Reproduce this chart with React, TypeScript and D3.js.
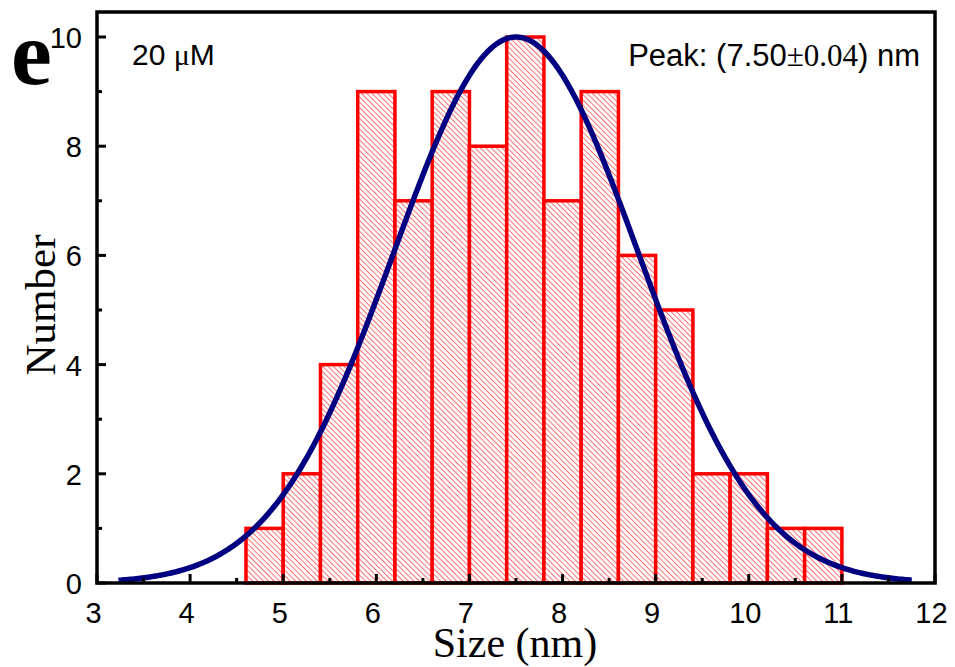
import React, { useEffect, useRef } from "react";
import * as d3 from "d3";

const binStarts = [4.6, 5.0, 5.4, 5.8, 6.2, 6.6, 7.0, 7.4, 7.8, 8.2, 8.6, 9.0, 9.4, 9.8, 10.2, 10.6];
const counts = [1, 2, 4, 9, 7, 9, 8, 10, 7, 9, 6, 5, 2, 2, 1, 1];
const binWidth = 0.4;
// Gaussian fit parameters: [center, sigma, amplitude], range of fit curve
const fitParams = [7.5, 1.31, 10];
const fitRange = [3.23, 11.75];
const xTicks = [3, 4, 5, 6, 7, 8, 9, 10, 11, 12];
const yTicks = [0, 2, 4, 6, 8, 10];

const W = 955, H = 667;
const M = { left: 97, right: 935, top: 12, bottom: 583 };

export default function App() {
  const ref = useRef<SVGSVGElement>(null);
  useEffect(() => {
    const svg = d3.select(ref.current);
    svg.selectAll("*").remove();
    const x = d3.scaleLinear().domain([3, 12]).range([M.left, M.right]);
    const y = d3.scaleLinear().domain([0, 10]).range([M.bottom, 37]);

    const defs = svg.append("defs");
    const P = 3.8;
    const pat = defs.append("pattern").attr("id", "hatch").attr("patternUnits", "userSpaceOnUse")
      .attr("width", P).attr("height", P).attr("patternTransform", "rotate(45)");
    pat.append("rect").attr("width", P).attr("height", P).attr("fill", "white");
    pat.append("line").attr("x1", 0).attr("y1", 0).attr("x2", P).attr("y2", 0)
      .attr("stroke", "#ff0000").attr("stroke-width", 1.1);

    // bars
    svg.append("g").selectAll("rect").data(binStarts).join("rect")
      .attr("x", (d) => x(d))
      .attr("y", (d, i) => y(counts[i]))
      .attr("width", (d) => x(d + binWidth) - x(d))
      .attr("height", (d, i) => y(0) - y(counts[i]))
      .attr("fill", "url(#hatch)")
      .attr("stroke", "#ff0000")
      .attr("stroke-width", 3.5);

    // fit curve
    const [mu, sg, amp] = fitParams;
    const pts = d3.range(0, 401).map((i) => {
      const xv = fitRange[0] + (fitRange[1] - fitRange[0]) * i / 400;
      return [xv, amp * Math.exp(-((xv - mu) ** 2) / (2 * sg * sg))];
    });
    svg.append("path").datum(pts)
      .attr("d", d3.line().x((d: any) => x(d[0])).y((d: any) => y(d[1])) as any)
      .attr("fill", "none").attr("stroke", "#000080").attr("stroke-width", 5.5);

    // frame
    svg.append("rect").attr("x", M.left).attr("y", M.top)
      .attr("width", M.right - M.left).attr("height", M.bottom - M.top)
      .attr("fill", "none").attr("stroke", "black").attr("stroke-width", 3.5);

    const g = svg.append("g").attr("stroke", "black").attr("stroke-width", 3);
    xTicks.forEach((t) => {
      g.append("line").attr("x1", x(t)).attr("x2", x(t)).attr("y1", M.bottom).attr("y2", M.bottom - 9);
      if (t < 12) g.append("line").attr("x1", x(t + 0.5)).attr("x2", x(t + 0.5)).attr("y1", M.bottom).attr("y2", M.bottom - 5);
    });
    yTicks.forEach((t) => {
      g.append("line").attr("x1", M.left).attr("x2", M.left + 9).attr("y1", y(t)).attr("y2", y(t));
      g.append("line").attr("x1", M.left).attr("x2", M.left + 5).attr("y1", y(t + 1)).attr("y2", y(t + 1));
    });

    const sans = "'Liberation Sans', Arial, sans-serif";
    const serif = "'Liberation Serif', 'Times New Roman', serif";
    svg.append("g").selectAll("text").data(xTicks).join("text")
      .attr("x", (d) => x(d) - 3.5).attr("y", 623).attr("text-anchor", "middle")
      .attr("font-family", sans).attr("font-size", 29).text((d) => d);
    svg.append("g").selectAll("text").data(yTicks).join("text")
      .attr("x", 82).attr("y", (d) => y(d) + 11).attr("text-anchor", "end")
      .attr("font-family", sans).attr("font-size", 29).text((d) => d);

    svg.append("text").attr("x", 11).attr("y", 84).attr("font-family", serif)
      .attr("font-weight", "bold").attr("font-size", 92).text("e");
    svg.append("text").attr("transform", `translate(55,305) rotate(-90)`).attr("text-anchor", "middle")
      .attr("font-family", serif).attr("font-size", 43).text("Number");
    svg.append("text").attr("x", 515).attr("y", 657).attr("text-anchor", "middle")
      .attr("font-family", serif).attr("font-size", 42).text("Size (nm)");

    const t1 = svg.append("text").attr("x", 132).attr("y", 65).attr("font-family", sans).attr("font-size", 30);
    t1.append("tspan").text("20 ");
    t1.append("tspan").attr("font-family", serif).text("μ");
    t1.append("tspan").text("M");

    const t2 = svg.append("text").attr("x", 920).attr("y", 66).attr("text-anchor", "end")
      .attr("font-family", sans).attr("font-size", 31);
    t2.append("tspan").text("Peak: (7.50");
    t2.append("tspan").attr("font-family", serif).text("±0.04");
    t2.append("tspan").text(") nm");
  }, []);
  return (
    <svg ref={ref} width={W} height={H} style={{ position: "absolute", left: 0, top: 0, background: "white" }} />
  );
}
